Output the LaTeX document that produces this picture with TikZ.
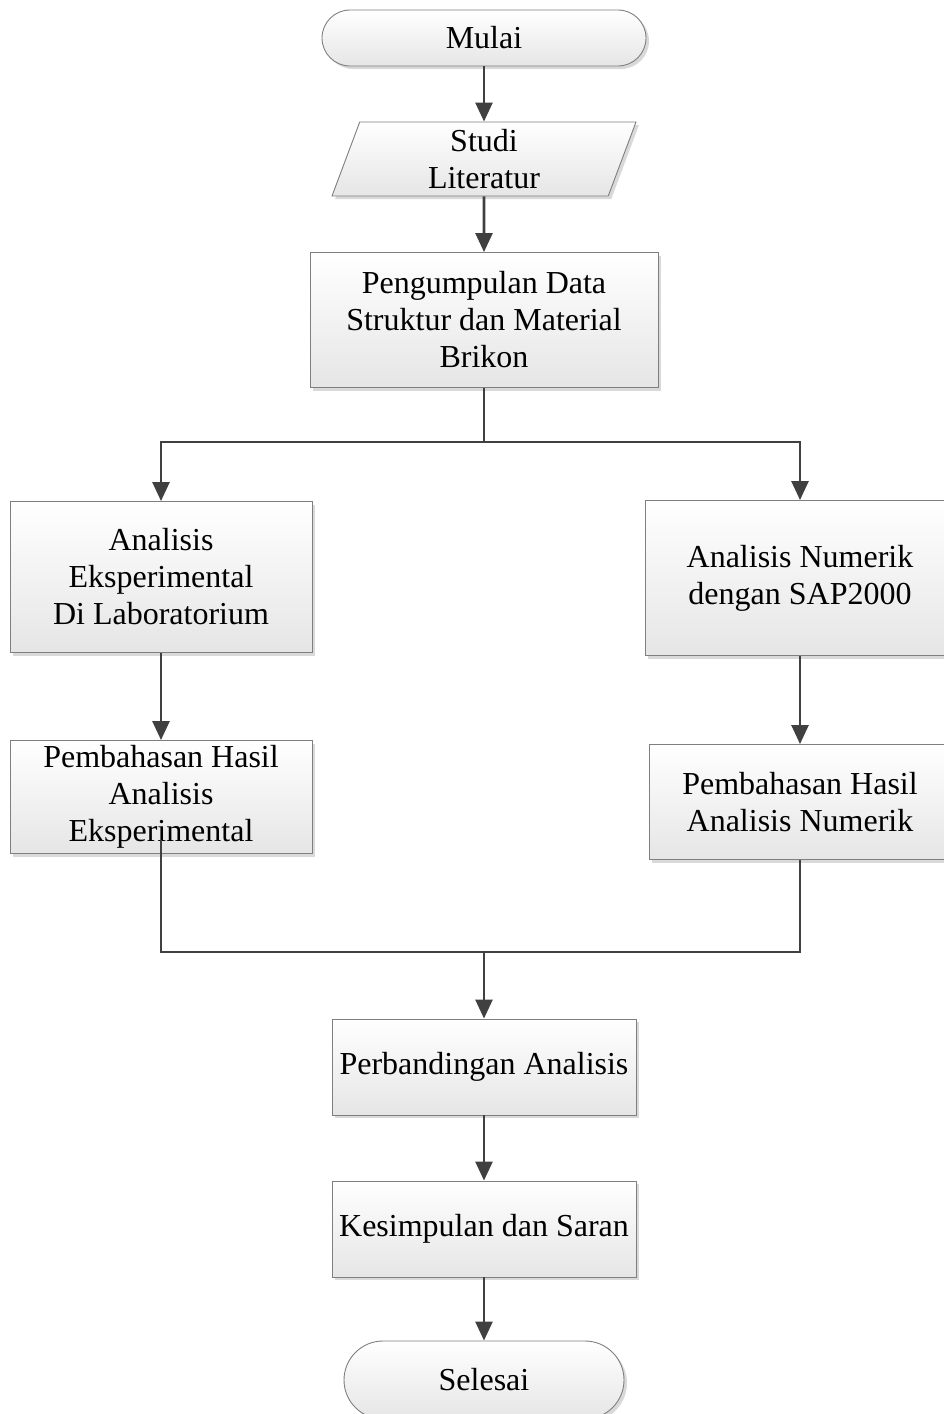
\documentclass[tikz,border=0pt]{standalone}
\usepackage{fontspec}
\setmainfont{Liberation Serif}
\usetikzlibrary{shapes.geometric,shadows,arrows.meta,calc}
\definecolor{garis}{HTML}{404040}
\definecolor{tepi}{HTML}{7F7F7F}
\tikzset{
  dasar/.style={draw=tepi,line width=0.9pt,top color=white,bottom color=black!10,
    drop shadow={shadow xshift=3pt,shadow yshift=-3pt,fill=black!15,opacity=1},
    align=center,font=\fontsize{32}{37}\selectfont,inner sep=0pt},
  proses/.style={dasar,rectangle},
  terminal/.style={dasar,rectangle,rounded corners=28pt},
  dataio/.style={dasar,trapezium,trapezium left angle=65,trapezium right angle=115,
    trapezium stretches body,minimum width=304pt,minimum height=74pt},
  panah/.style={draw=garis,line width=2.6pt,-{Triangle[width=17pt,length=19pt]}},
  garispanah/.style={draw=garis,line width=2.6pt}
}
\begin{document}
\begin{tikzpicture}[x=1pt,y=-1pt]
\useasboundingbox (0,0) rectangle (944,1414);
% alur utama
\node[terminal,minimum width=324pt,minimum height=56pt] (mulai) at (484,38) {Mulai};
\node[dataio] (studi) at (484,159) {Studi\\Literatur};
\node[proses,minimum width=348pt,minimum height=135pt] (data) at (484,320) {Pengumpulan Data\\Struktur dan Material\\Brikon};
% cabang kiri
\node[proses,minimum width=302pt,minimum height=151pt] (eksp) at (161,577) {Analisis\\Eksperimental\\Di Laboratorium};
\node[proses,minimum width=302pt,minimum height=113pt] (hasileksp) at (161,797) {Pembahasan Hasil\\Analisis\\Eksperimental};
% cabang kanan
\node[proses,minimum width=310pt,minimum height=155pt] (num) at (800,578) {Analisis Numerik\\dengan SAP2000};
\node[proses,minimum width=302pt,minimum height=115pt] (hasilnum) at (800,802) {Pembahasan Hasil\\Analisis Numerik};
% penutup
\node[proses,minimum width=304pt,minimum height=96pt] (banding) at (484,1067) {Perbandingan Analisis};
\node[proses,minimum width=304pt,minimum height=96pt] (simpul) at (484,1229) {Kesimpulan dan Saran};
\node[terminal,minimum width=280pt,minimum height=78pt,rounded corners=39pt] (selesai) at (484,1380) {Selesai};

\coordinate (cabang) at (484,442);
\coordinate (gabung) at (484,952);

\draw[panah] (mulai) -- (studi);
\draw[panah] (studi) -- (data);
\draw[garispanah] (data.south) -- (cabang);
\draw[panah] (cabang) -| (eksp.north);
\draw[panah] (cabang) -| (num.north);
\draw[panah] (eksp) -- (hasileksp);
\draw[panah] (num) -- (hasilnum);
\draw[garispanah] ($(hasileksp.south)+(0,-14)$) |- (gabung);
\draw[garispanah] (hasilnum.south) |- (gabung);
\draw[panah] (gabung) -- (banding);
\draw[panah] (banding) -- (simpul);
\draw[panah] (simpul) -- (selesai);
\end{tikzpicture}
\end{document}
